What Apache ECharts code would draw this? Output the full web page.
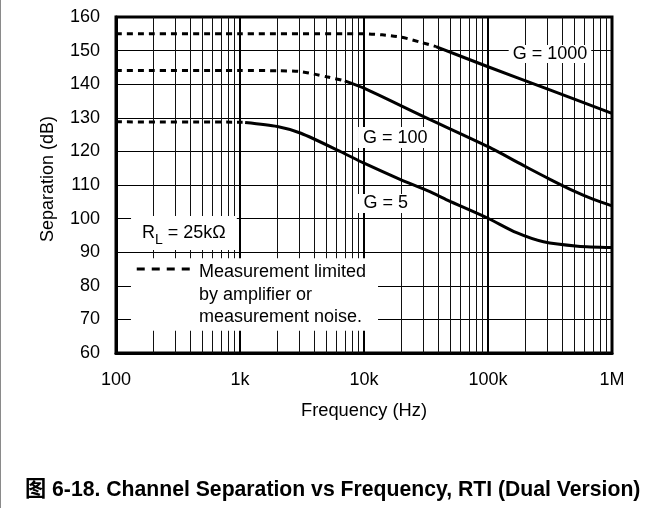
<!DOCTYPE html>
<html><head><meta charset="utf-8">
<script src="https://cdn.jsdelivr.net/npm/echarts@6/dist/echarts.min.js"></script>
<style>
html,body{margin:0;padding:0;background:#fff}
body{position:relative;width:663px;height:508px;overflow:hidden}
#c{width:663px;height:508px}
#edge{position:absolute;left:0;top:0;width:1px;height:508px;background:#8a8a8a;z-index:10}
</style>
</head><body><div id="c"></div><div id="edge"></div>
<script>
const FONT = '"Liberation Sans", Arial, "Noto Sans CJK SC", sans-serif';

// axis ticks
const xTickValues = [100, 1000, 10000, 100000, 1000000];
const xTickLabels = ['100', '1k', '10k', '100k', '1M'];
const minorGridFreqs = [200,300,400,500,600,700,800,900,
  2000,3000,4000,5000,6000,7000,8000,9000,
  20000,30000,40000,50000,60000,70000,80000,90000,
  200000,300000,400000,500000,600000,700000,800000,900000];
const yMin = 60, yMax = 160, yStep = 10;

// curves [frequency Hz, separation dB]
const g1000Dashed = [[100,155],[1000,155],[10000,155],[14000,154.7],[20000,154],[28000,152.6],[38000,151.2]];
const g1000Solid  = [[38000,151.2],[100000,145.2],[300000,138.6],[1000000,131.3]];
const g100Dashed  = [[100,144.1],[1000,144.1],[2000,144],[3000,143.8],[4000,143],[5000,142.2],[7000,141]];
const g100Solid   = [[7000,141],[10000,138.8],[30000,130.4],[100000,121.4],[200000,115.5],[316000,111.7],[500000,108.1],[710000,105.7],[1000000,103.8]];
const g5Dashed    = [[100,128.8],[1050,128.7]];
const g5Solid     = [[1100,128.6],[2000,127.4],[3100,125.4],[6500,119.9],[10000,116.5],[19500,111.7],[34000,108],[47000,105.5],[100000,100.1],[170000,95.8],[280000,93.1],[530000,91.8],[1000000,91.4]];

// annotations
const annoKeys = ['g1000','g100','g5','rl','note'];
const annoText = {
  g1000: 'G = 1000',
  g100: 'G = 100',
  g5: 'G = 5',
  rl: '{a|R}{s|L}{a| = 25kΩ}',
  note: 'Measurement limited\nby amplifier or\nmeasurement noise.'
};
const annoPos = {
  g1000: [316000, 149.0],
  g100: [17900, 124.1],
  g5: [15000, 104.5],
  rl: [353, 95.7],
  note: [132, 77.4]
};
const legendDash = [[147, 85], [395, 85]];
const caption = '图 6-18. Channel Separation vs Frequency, RTI (Dual Version)';

const baseLabel = {show:true, position:'inside', color:'#000', fontSize:18, fontFamily:FONT, backgroundColor:'#fff', opacity:1, textBorderWidth:0};
const annoStyle = {
  g1000: {padding:[0,4], lineHeight:18},
  g100: {padding:[0,5], lineHeight:21},
  g5: {padding:[0,7], lineHeight:19},
  rl: {padding:[3,11,3,11], rich:{a:{fontSize:18, lineHeight:28, color:'#000', fontFamily:FONT}, s:{fontSize:14, lineHeight:14, verticalAlign:'bottom', color:'#000', fontFamily:FONT}}},
  note: {align:'left', padding:[0,12,5,68], lineHeight:22.5}
};

const curve = (data, dashed) => ({
  type:'line', data, showSymbol:false, symbol:'none', smooth:0.25, z:6, silent:true,
  lineStyle:{color:'#000', width:3, type: dashed ? [6,5] : 'solid'}
});

const chart = echarts.init(document.getElementById('c'), null, {renderer:'canvas'});
chart.setOption({
  animation:false,
  backgroundColor:'#fff',
  title:{text:caption, left:20, top:475, textStyle:{fontSize:21.2, fontWeight:'bold', color:'#000', fontFamily:FONT}},
  grid:{left:116, right:51, top:17, bottom:155, show:true, borderColor:'#000', borderWidth:3, backgroundColor:'transparent'},
  xAxis:{
    type:'log', logBase:10, min:100, max:1000000,
    name:'Frequency (Hz)', nameLocation:'middle', nameGap:49,
    nameTextStyle:{fontSize:18.3, color:'#000', fontFamily:FONT},
    axisLine:{show:true, lineStyle:{color:'#000', width:3}},
    axisTick:{show:false},
    axisLabel:{fontSize:18, color:'#000', fontFamily:FONT, margin:18,
      formatter:v => { const i = xTickValues.findIndex(t => Math.abs(t - v) / t < 1e-6); return i >= 0 ? xTickLabels[i] : ''; }},
    splitLine:{show:true, lineStyle:{color:'#000', width:2}},
    minorTick:{show:false}, minorSplitLine:{show:false}
  },
  yAxis:{
    type:'value', min:yMin, max:yMax, interval:yStep,
    name:'Separation (dB)', nameLocation:'middle', nameGap:59,
    nameTextStyle:{fontSize:18, color:'#000', fontFamily:FONT, padding:[0,0,0,12]},
    axisLine:{show:true, lineStyle:{color:'#000', width:3}},
    axisTick:{show:false},
    axisLabel:{fontSize:18, color:'#000', fontFamily:FONT, margin:16},
    splitLine:{show:true, lineStyle:{color:'#000', width:1}}
  },
  series:[
    {type:'line', data:[], z:1, silent:true,
      markLine:{silent:true, z:1, animation:false, symbol:['none','none'], label:{show:false},
        lineStyle:{color:'#111', width:1, type:'solid'},
        emphasis:{disabled:true},
        data:minorGridFreqs.map(f => ({xAxis:f}))}},
    {type:'scatter', z:3, silent:true, symbolSize:1, itemStyle:{color:'rgba(255,255,255,0)', opacity:1},
      data:annoKeys.map(k => ({value:annoPos[k], label:Object.assign({}, baseLabel, annoStyle[k], {formatter:annoText[k]})}))},
    curve(g1000Dashed, true), curve(g1000Solid, false),
    curve(g100Dashed, true), curve(g100Solid, false),
    curve(g5Dashed, true), curve(g5Solid, false),
    {type:'line', data:legendDash, showSymbol:false, symbol:'none', z:6, silent:true,
      lineStyle:{color:'#000', width:3, type:[8,7]}}
  ]
});
</script>
</body></html>
